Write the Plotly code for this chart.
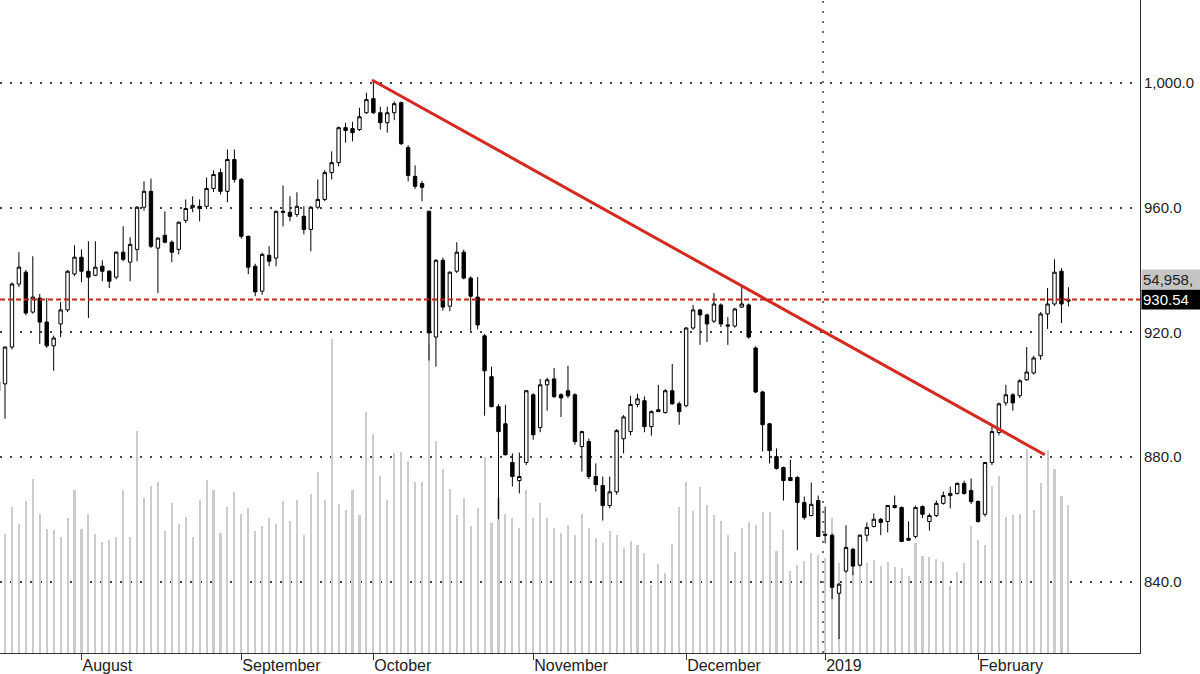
import plotly.graph_objects as go

# ---------------- data ----------------
OPEN = [904.2, 903.5, 915.3, 935.5, 939.3, 926.5, 931.0, 923.3, 915.7, 922.7,
        927.2, 938.7, 944.1, 939.6, 938.3, 941.2, 939.6, 937.7, 945.7, 942.5,
        946.6, 960.1, 965.2, 947.0, 951.1, 948.9, 946.6, 955.9, 960.1, 960.4,
        960.4, 966.1, 971.2, 965.2, 975.4, 969.0, 950.8, 941.2, 933.2, 944.7,
        943.8, 958.8, 958.5, 957.8, 957.2, 953.0, 960.1, 962.6, 971.2, 974.4,
        985.6, 985.3, 985.0, 990.4, 994.9, 990.4, 987.2, 990.4, 993.6, 979.2,
        970.0, 967.7, 958.8, 918.5, 943.1, 928.4, 939.6, 945.7, 937.4, 931.3,
        918.9, 905.8, 896.2, 890.7, 878.3, 872.5, 878.3, 900.0, 889.5, 903.2,
        905.1, 900.0, 901.3, 900.0, 883.4, 885.0, 873.8, 870.9, 864.5, 868.9,
        885.9, 888.2, 896.9, 898.1, 889.8, 895.2, 894.3, 901.3, 897.1, 896.5,
        921.4, 927.2, 925.6, 923.6, 928.8, 922.4, 922.05, 928.1, 928.8, 915.0,
        900.9, 890.7, 880.2, 876.7, 873.5, 873.5, 865.5, 861.3, 866.1, 855.3,
        855.0, 836.4, 843.5, 850.5, 845.4, 855.0, 857.8, 860.1, 859.4, 864.5,
        863.9, 854.0, 854.6, 864.2, 859.4, 861.3, 865.2, 867.7, 868.4, 871.6,
        869.3, 865.8, 861.7, 878.3, 887.9, 897.4, 900.0, 899.7, 904.8, 907.0,
        912.5, 925.9, 929.1, 939.6, 930.0]
HIGH = [906.0, 915.5, 936.0, 945.7, 940.0, 944.4, 932.3, 931.0, 919.0, 929.7,
        940.0, 947.9, 946.6, 949.2, 949.2, 943.1, 940.0, 946.0, 954.0, 950.5,
        960.5, 968.4, 969.3, 950.5, 958.8, 949.5, 955.5, 962.6, 963.6, 962.6,
        969.6, 971.9, 972.5, 978.6, 978.6, 969.5, 951.0, 942.0, 945.5, 947.6,
        959.0, 967.1, 963.6, 964.9, 960.4, 960.5, 969.0, 972.0, 978.0, 986.0,
        987.2, 987.5, 992.0, 996.8, 1000.6, 992.3, 992.3, 994.0, 994.0, 980.0,
        973.5, 968.5, 959.0, 943.5, 944.0, 939.5, 948.9, 946.5, 938.0, 937.7,
        919.5, 909.0, 897.0, 896.8, 881.2, 881.5, 901.5, 900.5, 905.1, 905.5,
        908.6, 900.5, 909.3, 900.5, 888.5, 886.0, 878.0, 873.8, 873.8, 889.0,
        893.5, 899.7, 900.3, 899.5, 895.0, 903.2, 901.8, 909.9, 897.8, 921.7,
        928.8, 927.5, 926.0, 932.6, 929.3, 924.9, 927.9, 935.1, 929.3, 915.5,
        901.3, 891.0, 882.8, 877.0, 879.2, 874.0, 867.4, 871.9, 867.7, 864.2,
        855.5, 839.6, 858.2, 851.0, 855.3, 859.1, 862.0, 860.5, 864.5, 867.7,
        864.2, 859.4, 864.5, 864.5, 862.0, 866.1, 869.0, 870.6, 871.9, 872.5,
        873.2, 866.2, 878.5, 889.8, 897.5, 903.2, 900.5, 905.0, 915.3, 912.5,
        926.5, 934.2, 943.4, 940.6, 934.5]
LOW = [898.0, 892.3, 914.5, 934.5, 925.5, 926.0, 916.3, 915.0, 907.7, 918.5,
       926.5, 938.0, 936.1, 924.6, 938.0, 936.4, 934.2, 937.0, 942.8, 936.4,
       942.8, 959.0, 947.0, 932.6, 948.5, 942.5, 945.0, 955.0, 958.5, 955.6,
       959.5, 965.0, 964.2, 961.7, 968.0, 950.0, 938.7, 931.6, 932.0, 941.2,
       941.2, 954.0, 955.6, 957.0, 951.4, 946.0, 959.5, 962.0, 969.0, 973.2,
       980.8, 981.2, 984.5, 990.0, 990.0, 985.0, 984.0, 988.0, 980.0, 968.4,
       966.0, 962.0, 911.0, 909.0, 927.0, 926.8, 939.0, 937.0, 920.5, 921.0,
       893.3, 896.0, 860.1, 880.5, 870.6, 868.4, 877.5, 885.6, 888.0, 894.9,
       899.0, 892.9, 899.0, 884.0, 875.4, 873.0, 869.0, 859.7, 863.6, 868.0,
       881.2, 887.0, 896.0, 888.0, 886.9, 894.5, 894.0, 896.8, 890.4, 896.0,
       920.8, 916.0, 916.9, 923.0, 921.7, 916.0, 921.5, 927.8, 918.0, 900.5,
       881.8, 878.0, 876.0, 866.1, 872.5, 850.2, 860.0, 861.0, 854.5, 852.4,
       834.5, 821.7, 843.0, 842.2, 845.0, 853.0, 857.5, 855.0, 855.9, 863.5,
       853.0, 853.3, 854.0, 860.5, 856.5, 860.8, 864.8, 863.6, 868.0, 868.0,
       865.0, 859.0, 861.0, 877.5, 887.0, 896.5, 894.9, 899.0, 904.5, 906.5,
       911.2, 921.1, 928.5, 923.0, 928.4]
CLOSE = [901.3, 915.3, 935.5, 940.9, 926.2, 931.3, 923.3, 915.7, 918.2, 927.2,
         939.6, 944.1, 939.6, 937.7, 940.9, 939.6, 936.4, 945.7, 943.4, 948.2,
         960.1, 965.2, 947.6, 950.2, 948.9, 945.7, 955.3, 959.7, 960.7, 959.7,
         966.1, 970.6, 965.2, 975.4, 969.0, 950.8, 940.9, 933.0, 945.0, 942.8,
         958.8, 958.5, 957.2, 960.4, 953.0, 960.1, 962.6, 971.2, 974.4, 985.6,
         984.7, 984.0, 989.1, 994.6, 990.4, 987.2, 990.4, 993.3, 980.5, 970.3,
         966.8, 966.5, 919.8, 943.1, 928.1, 939.3, 945.7, 937.4, 931.6, 922.4,
         907.7, 896.2, 888.2, 880.8, 873.8, 873.8, 901.3, 887.2, 903.2, 904.8,
         899.4, 899.0, 899.7, 885.0, 888.2, 873.8, 871.2, 864.5, 868.9, 888.5,
         892.9, 896.9, 898.7, 889.8, 894.6, 894.6, 901.3, 897.1, 894.6, 921.4,
         927.2, 925.6, 922.7, 929.1, 922.7, 922.05, 927.5, 929.1, 918.5, 900.9,
         890.4, 882.1, 876.4, 872.5, 872.5, 865.5, 860.7, 864.9, 854.6, 855.0,
         838.3, 839.3, 851.1, 845.1, 855.0, 857.5, 860.1, 859.1, 864.5, 863.9,
         853.0, 853.4, 863.9, 861.7, 861.3, 865.2, 867.7, 868.4, 871.6, 868.4,
         865.8, 859.4, 878.3, 888.2, 897.1, 900.0, 897.4, 904.5, 907.3, 911.8,
         925.9, 929.1, 939.3, 929.1, 930.54]
# volume, thousands
VOLUME_K = [48.2, 44.1, 54.5, 47.9, 56.4, 64.6, 51.9, 46.0, 45.6, 43.0,
            50.1, 60.5, 46.0, 51.9, 44.1, 41.2, 41.9, 43.0, 60.5, 43.0,
            82.7, 57.5, 62.3, 63.8, 45.3, 55.7, 47.9, 50.5, 43.0, 57.1,
            64.2, 60.5, 44.5, 54.5, 60.1, 51.9, 53.8, 45.3, 47.1, 50.1,
            47.9, 56.4, 49.0, 57.1, 43.8, 59.0, 67.2, 56.8, 116.9, 55.3,
            53.4, 60.5, 51.2, 89.8, 81.6, 66.0, 57.1, 74.6, 74.9, 71.6,
            63.8, 63.8, 115.0, 79.0, 68.6, 61.2, 51.2, 57.5, 47.1, 53.8,
            73.1, 48.2, 57.5, 51.9, 50.1, 46.4, 60.5, 50.1, 55.7, 50.1,
            46.4, 44.5, 47.5, 43.8, 51.9, 46.4, 42.7, 40.8, 45.3, 43.8,
            39.0, 41.6, 40.1, 37.1, 25.2, 33.0, 29.7, 40.4, 54.5, 63.8,
            52.7, 61.6, 54.9, 51.2, 49.0, 43.8, 37.5, 46.7, 48.6, 47.5,
            52.3, 52.3, 37.8, 45.6, 30.4, 32.6, 34.1, 37.1, 36.4, 35.2,
            50.1, 33.4, 34.5, 30.4, 36.4, 33.4, 34.5, 32.3, 33.8, 31.9,
            31.5, 28.6, 40.8, 36.0, 35.6, 34.9, 33.8, 24.9, 30.1, 33.4,
            47.1, 41.9, 40.1, 62.3, 65.7, 50.5, 51.2, 51.6, 76.1, 53.1,
            63.4, 75.7, 68.6, 58.6, 54.958]

MONTH_TICK_IDX = [12, 35, 54, 77, 99, 119, 141]
MONTH_LABELS = ["August", "September", "October", "November", "December", "2019", "February"]
PRICE_TICKS = [840, 880, 920, 960, 1000]
TREND_IDX = [53.8, 150.6]
TREND_PRICE = [1000.9, 880.8]
LAST_PRICE = 930.54
LAST_VOLUME_LABEL = "54,958,"
YEAR_BOUNDARY_IDX = 118.7

FONT = "Liberation Sans, Arial, sans-serif"
idx = list(range(len(CLOSE)))

fig = go.Figure()
fig.add_trace(go.Bar(x=idx, y=VOLUME_K, yaxis="y", width=0.3,
                     marker=dict(color="#cccccc", line=dict(width=0)),
                     hoverinfo="skip"))
fig.add_trace(go.Candlestick(
    x=idx, open=OPEN, high=HIGH, low=LOW, close=CLOSE, yaxis="y2",
    increasing=dict(line=dict(color="#000000", width=1), fillcolor="#ffffff"),
    decreasing=dict(line=dict(color="#000000", width=1), fillcolor="#000000"),
    whiskerwidth=0))
fig.add_trace(go.Scatter(x=TREND_IDX, y=TREND_PRICE, yaxis="y2", mode="lines",
                         line=dict(color="#d42a20", width=3), hoverinfo="skip"))

fig.add_shape(type="line", xref="paper", x0=0, x1=1, yref="y2",
              y0=LAST_PRICE, y1=LAST_PRICE,
              line=dict(color="#c8201a", width=2, dash="5px,3px"))
fig.add_shape(type="line", xref="x", x0=YEAR_BOUNDARY_IDX, x1=YEAR_BOUNDARY_IDX,
              yref="paper", y0=0, y1=1,
              line=dict(color="#444444", width=1.5, dash="2px,8px"), layer="below")

fig.add_annotation(xref="paper", x=1, xanchor="left", xshift=1,
                   yref="y2", y=LAST_PRICE, yanchor="middle",
                   text=f"{LAST_PRICE:.2f}", showarrow=False, align="left",
                   bgcolor="#000000", width=58, borderpad=1,
                   font=dict(family=FONT, size=15, color="#ffffff"))
fig.add_annotation(xref="paper", x=1, xanchor="left", xshift=1,
                   yref="y2", y=LAST_PRICE, yanchor="middle", yshift=20,
                   text=LAST_VOLUME_LABEL, showarrow=False, align="left",
                   bgcolor="#c4c4c4", width=58, borderpad=1,
                   font=dict(family=FONT, size=15, color="#222222"))

fig.update_layout(
    width=1200, height=674,
    margin=dict(l=0, r=60, t=0, b=19),
    paper_bgcolor="white", plot_bgcolor="white",
    showlegend=False, bargap=0,
    xaxis=dict(range=[0.28, 164.3], tickvals=MONTH_TICK_IDX, ticktext=MONTH_LABELS,
               ticks="outside", ticklen=6, tickcolor="#333333",
               ticklabelposition="outside right", ticklabelstandoff=-2,
               showline=True, linecolor="#333333", linewidth=1,
               showgrid=False, zeroline=False,
               rangeslider=dict(visible=False),
               tickfont=dict(family=FONT, size=16, color="#222222")),
    yaxis=dict(range=[0, 243], visible=False, showgrid=False, zeroline=False),
    yaxis2=dict(overlaying="y", side="right", anchor="x",
                range=[817.25, 1026.52], tickvals=PRICE_TICKS, tickformat=",.1f",
                showline=True, linecolor="#333333", linewidth=1,
                showgrid=True, gridcolor="#444444", gridwidth=1.5, griddash="2px,8px",
                zeroline=False, ticks="",
                tickfont=dict(family=FONT, size=15, color="#222222")),
)

fig.write_html("out.html")
